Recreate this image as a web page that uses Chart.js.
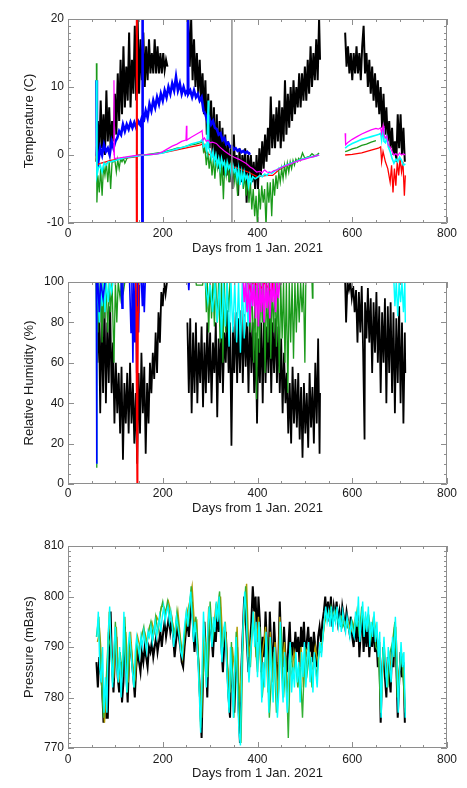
<!DOCTYPE html>
<html><head><meta charset="utf-8">
<script src="https://cdn.jsdelivr.net/npm/chart.js@4.4.1/dist/chart.umd.min.js"></script>
<style>
html,body{margin:0;padding:0;background:#fff;width:467px;height:788px;overflow:hidden}
canvas{position:absolute;left:0}
</style></head><body>
<canvas id="c1" width="467" height="262" style="top:0px"></canvas>
<canvas id="c2" width="467" height="262" style="top:262px"></canvas>
<canvas id="c3" width="467" height="264" style="top:524px"></canvas>
<script>
// ---------- axis labels ----------
const xTitle = 'Days from 1 Jan. 2021';
const tempTitle = 'Temperature (C)';
const rhTitle = 'Relative Humidity (%)';
const presTitle = 'Pressure (mBars)';

// ---------- Temperature series [day, value] ----------
const tBlack = [[60,-1],[63,5],[66,0],[69,8],[72,1],[75,6],[78,0],[81,9.5],[84,2],[87,7],[90,1],[93,5],[96,2],[99,9],[102,3],[105,12],[108,5],[111,14],[114,6],[117,16],[120,7],[123,13],[126,8],[129,18],[132,7],[135,14],[138,9],[141,19],[144,8],[147,20],[150,9],[153,17],[156,11],[159,18],[162,10],[165,16],[168,11],[171,17],[174,12],[177,15],[180,12],[183,17],[186,12],[189,16],[192,12],[195,15],[198,12],[201,15],[204,12.5],[207,14],[210,13],[211,null],
[254,20],[257,13],[260,20],[263,11],[266,17],[269,10],[272,15],[275,9],[278,14],[281,8],[284,12],[287,6],[290,11],[293,3],[296,9],[299,1],[302,8],[305,0],[308,7],[311,-1],[314,6],[317,-2],[320,5],[323,-2],[326,4],[329,-3],[332,3],[335,-3],[338,2],[341,-4],[344,1],[347,-5],[350,3],[353,-3],[356,0],[359,-6],[362,1],[365,-4],[368,0],[371,-3],[374,1],[377,-7],[380,0],[383,-3],[386,0],[389,-4],[392,-1],[395,-5],[398,0],[401,-5],[404,1],[407,-3],[410,2],[413,-2],[416,3],[419,-1],[422,4],[425,0],[428,8.6],[431,1],[434,6],[437,1],[440,7],[443,2],[446,8],[449,1],[452,7],[455,2],[458,11],[461,3],[464,9],[467,4],[470,10],[473,5],[476,11],[479,6],[482,10],[485,7],[488,12],[491,7],[494,12],[497,8],[500,13],[503,8],[506,14],[509,9],[512,16],[515,10],[518,15],[521,11],[524,17],[527,11],[530,20],[532,14],[533,null],
[585,18],[588,13],[591,16],[594,12],[597,15],[600,11],[603,15],[606,12],[609,16],[612,12],[615,15],[618,11],[621,16],[624,19],[627,12],[630,15],[633,10],[636,14],[639,9],[642,13],[645,8],[648,12],[651,7],[654,11],[657,6],[660,10],[663,4],[666,9],[669,3],[672,7],[675,2],[678,5],[681,1],[684,4],[687,0],[690,2],[693,-1],[696,6],[699,1],[702,6],[705,0],[708,4],[711,-1]];
const tBlue = [[60,11],[61,0],[64,-1],[68,1],[72,0],[76,1.5],[80,0.5],[84,1],[88,0],[92,2],[96,1],[100,2],[104,2.5],[108,3.5],[112,3],[116,4.5],[120,3.5],[124,4.5],[128,3.8],[132,4.8],[136,4],[140,4.8],[144,4],[148,5],[152,4.5],[156,5.5],[157,-10],[157,20],[158,5],[160,5],[164,6.5],[168,5.5],[172,7.5],[176,6.5],[180,8],[184,7],[188,8.5],[192,7.5],[196,9],[200,8],[204,9.5],[208,8.5],[212,10],[216,9],[220,10.5],[224,9.5],[228,11.5],[232,9.5],[236,10.5],[240,9],[244,10],[248,9],[252,9.5],[253,20],[254,9],[258,9.5],[262,8.5],[266,9.5],[270,8.5],[274,9],[278,8],[282,8.5],[286,6.5],[290,6],[294,5],[298,5.5],[302,4.5],[306,5],[310,4],[314,3.8],[318,3],[322,3.2],[326,2.2],[330,2.5],[334,1.6],[338,1.8],[342,1.2],[346,1.3],[350,0.8],[354,1],[358,0.6],[362,0.8],[366,0.4],[370,0.6],[374,0.3],[378,0.5],[382,0.2],[385,0.3]];
const tRed = [[60,-1.5],[70,-1.2],[80,-1],[90,-0.8],[100,-0.7],[110,-0.6],[120,-0.5],[130,-0.4],[140,-0.3],[144,-0.2],[144,-10],[144,20],[145,20],[145,-10],[146,-10],[146,20],[146.5,-0.2],[150,-0.1],[160,0],[180,0.1],[200,0.3],[220,0.6],[240,0.9],[260,1.2],[280,1.5],[285,1.7],[287,0.5],[300,0],[320,-1],[340,-1.5],[360,-2],[380,-2.5],[400,-3.2],[420,-3],[432,-3],[445,-2.2],[460,-1.6],[475,-1.1],[490,-0.7],[505,-0.4],[520,-0.2],[530,0],[531,null],
[585,0],[600,0.1],[620,0.3],[640,0.7],[655,1],[660,1.2],[662,-1],[665,0.5],[670,-1],[675,-2],[680,-4],[683,-1.5],[686,-5.5],[689,-2],[692,-4.5],[695,-1],[698,-3],[701,-0.5],[704,-2.5],[707,-1],[710,-6],[712,-3]];
const tGreen = [[60,13.5],[61,-7],[63,-3],[66,-5.5],[69,-2],[72,-6],[75,-1.5],[78,-3],[81,-1.2],[84,-4],[87,-1],[90,-5],[93,-1],[96,-1],[99,-0.8],[102,-2.5],[105,-0.7],[108,-2],[111,-0.6],[114,-1],[117,-0.5],[120,-1.2],[125,-0.4],[130,-0.3],[140,-0.2],[150,0],[160,0],[170,0.1],[180,0.2],[190,0.3],[200,0.4],[210,0.6],[220,0.8],[230,1],[240,1.1],[250,1.3],[260,1.5],[270,1.6],[280,1.8],[284,2],[286,0.5],[289,1],[292,-1.5],[295,0.5],[298,-2],[301,0],[304,-3],[307,-0.5],[310,-3.5],[313,-0.5],[316,-2],[319,-0.5],[322,-4.5],[325,-1],[328,-6.5],[331,-1],[334,-3],[337,-1],[340,-4],[343,-1.5],[346,-3],[349,-2],[352,-4],[355,-2],[358,-6],[361,-2],[364,-3.5],[367,-2.5],[370,-5],[373,-3],[376,-6],[379,-3.5],[382,-7],[385,-4],[388,-8],[391,-5],[394,-9],[397,-6],[400,-10.5],[403,-5],[406,-8],[409,-4.5],[412,-7],[415,-5],[418,-10.5],[421,-4],[424,-7],[427,-4],[430,-9],[433,-3.5],[436,-6],[439,-3],[442,-5],[445,-2.5],[448,-4],[451,-2],[454,-3.5],[457,-1.5],[460,-3],[463,-1.2],[466,-2.5],[469,-1],[472,-2],[475,-0.8],[478,-1.5],[481,-0.6],[484,-1],[487,-0.5],[490,-0.8],[495,0.3],[500,-0.5],[505,-0.3],[510,-0.2],[515,0.2],[520,-0.1],[525,0],[530,0.3],[531,null],
[585,0.5],[590,0.6],[600,0.9],[610,1.1],[620,1.4],[630,1.6],[640,1.9],[650,2.1]];
const tCyan = [[60,11],[61,-3],[64,-2],[68,-1.5],[72,-2.5],[76,-1.2],[80,-1.5],[85,-1],[90,-1],[95,-0.9],[100,-0.8],[110,-0.6],[120,-0.4],[130,-0.3],[140,-0.2],[150,-0.1],[160,0],[170,0],[180,0.1],[190,0.2],[200,0.3],[210,0.5],[220,0.7],[230,0.9],[240,1.1],[250,1.3],[260,1.6],[270,1.8],[280,2],[284,2.3],[286,1.2],[290,1.5],[293,0.5],[296,8],[297,1],[300,0.5],[303,-0.5],[306,0.5],[309,-1],[312,0],[315,-1.5],[318,-0.5],[321,-2],[324,-0.5],[327,-1.5],[330,-1],[333,-2.5],[336,-1],[339,-2],[342,-1.5],[345,-3],[348,-1.5],[351,-2.5],[354,-2],[357,-3.5],[360,-2],[363,-4.4],[366,-2.5],[369,-4],[372,-2.5],[375,-3.5],[378,-3],[381,-4.5],[384,-3],[387,-4],[390,-3.2],[395,-3.5],[400,-3.3],[405,-3],[410,-3.2],[415,-2.8],[420,-3],[425,-2.5],[430,-2.7],[440,-2.2],[450,-1.8],[460,-1.5],[470,-1.2],[480,-1],[490,-0.7],[500,-0.5],[510,-0.3],[520,-0.2],[530,0],[531,null],
[585,1],[590,1.3],[600,1.7],[610,2],[620,2.3],[630,2.5],[640,2.7],[650,2.9],[655,3],[660,3.2],[662,2.2],[665,4],[667,2],[670,1.8],[673,2.6],[676,1.2],[680,0.5],[684,-0.5],[688,-1.2],[692,-0.6],[696,-1],[700,-0.3],[704,-0.8],[708,-1.5],[712,-1.3]];
const tMagenta = [[96,0],[97,11],[98,-0.5],[100,-0.5],[110,-0.4],[120,-0.3],[130,-0.2],[140,-0.1],[150,0],[160,0],[170,0.1],[180,0.1],[190,0.2],[200,0.5],[210,0.9],[220,1.3],[230,1.6],[240,2],[249,2.2],[250,4.3],[251,2.2],[260,2.6],[270,3],[280,3.4],[283,3.6],[285,2.2],[288,2.5],[292,2],[296,2.2],[300,1.8],[305,1.9],[313,1.7],[320,1.2],[330,0.6],[342,0],[350,-0.3],[360,-0.6],[370,-1],[377,-1.3],[385,-1.8],[390,-2],[398,-2.5],[405,-2.4],[410,-2.6],[415,-2.2],[420,-2.5],[426,-2.6],[430,-2.5],[435,-2.3],[440,-2.2],[455,-1.7],[470,-1.3],[480,-1],[490,-0.8],[500,-0.6],[510,-0.4],[520,-0.2],[530,0],[531,null],
[585,3.2],[586,1.5],[590,1.8],[600,2.3],[610,2.7],[620,3.1],[630,3.4],[640,3.7],[650,3.9],[655,3.8],[660,4],[662,3.2],[665,4.3],[667,3],[670,2.5],[673,2.8],[676,1.5],[680,1.2],[684,0.5],[688,0],[692,0.2],[696,-0.1],[700,0.3],[704,0],[708,0.2],[712,0]];
const tMarker = [[346,-10],[346,20]];

// ---------- Relative humidity series [day, value] ----------
const rhBlack = [[60,100],[62,60],[65,90],[68,35],[71,85],[74,45],[77,90],[80,40],[83,80],[86,50],[89,88],[92,45],[95,70],[98,30],[101,60],[104,35],[107,55],[110,25],[113,58],[116,12],[119,50],[122,30],[125,55],[128,25],[131,60],[134,30],[137,50],[140,20],[143,45],[146,10],[149,55],[152,25],[155,65],[158,35],[161,58],[164,15],[167,50],[170,30],[173,60],[176,45],[179,65],[182,52],[185,75],[188,55],[191,85],[194,70],[197,95],[200,88],[203,100],[206,94],[209,100],[210,null],
[252,80],[255,45],[258,82],[261,35],[264,75],[267,45],[270,80],[273,40],[276,70],[279,50],[282,78],[285,38],[288,70],[291,45],[294,80],[297,50],[300,75],[303,40],[306,70],[309,55],[312,80],[315,33],[318,72],[321,50],[324,82],[327,45],[330,75],[333,60],[336,86],[339,55],[342,80],[345,19],[348,78],[351,55],[354,85],[357,50],[360,82],[363,55],[366,86],[369,50],[372,84],[375,58],[378,80],[381,45],[384,85],[387,55],[390,80],[393,45],[396,75],[399,30],[402,72],[405,50],[408,80],[411,40],[414,85],[417,50],[420,78],[423,55],[426,85],[429,45],[432,80],[435,55],[438,82],[441,50],[444,78],[447,45],[450,72],[453,35],[456,65],[459,40],[462,55],[465,25],[468,50],[471,20],[474,58],[477,30],[480,52],[483,28],[486,55],[489,22],[492,48],[495,13],[498,50],[501,25],[504,45],[507,18],[510,55],[513,28],[516,48],[519,20],[522,60],[525,30],[528,72],[531,15],[532,45],[533,null],
[585,100],[587,80],[590,100],[593,96],[596,100],[599,92],[602,98],[605,85],[608,96],[611,70],[614,95],[617,75],[620,98],[623,65],[626,22],[627,90],[630,72],[633,97],[636,70],[639,92],[642,55],[645,90],[648,65],[651,95],[654,60],[657,88],[660,45],[663,85],[666,60],[669,92],[672,40],[675,88],[678,55],[681,90],[684,45],[687,85],[690,35],[693,82],[696,50],[699,88],[702,40],[705,80],[708,30],[711,75],[712,55]];
const rhBlue = [[60,100],[60.5,10],[61,95],[63,100],[66,85],[69,100],[74,92],[78,100],[90,100],[100,100],[112,100],[114,87],[116,100],[130,100],[133,75],[135,100],[137,60],[139,100],[141,70],[143,100],[145,55],[147,100],[149,75],[151,100],[155,100],[157,88],[159,100],[161,85],[163,100],[165,100],[166,null],[254,100],[255,96],[256,100]];
const rhRed = [[60,100],[143,100],[144,88],[145,30],[146,0],[147,40],[148,85],[149,100],[150,null],[380,100],[385,96],[388,100],[410,97],[413,100],[430,95],[433,100],[455,100]];
const rhGreen = [[60,100],[60.5,8],[61,90],[63,75],[65,100],[67,80],[69,100],[72,70],[74,100],[77,82],[80,100],[84,75],[87,100],[90,85],[93,100],[97,60],[100,100],[103,80],[106,100],[110,92],[113,100],[117,95],[120,100],[270,100],[271,98.5],[284,98.5],[285,100],[290,100],[292,85],[294,100],[297,75],[300,100],[303,82],[306,100],[309,78],[312,100],[315,80],[318,100],[321,70],[324,100],[327,60],[330,100],[333,75],[336,100],[339,85],[342,100],[380,100],[385,75],[388,100],[392,60],[395,100],[398,42],[401,100],[404,65],[407,100],[410,80],[413,100],[416,55],[419,100],[422,70],[425,100],[428,62],[431,100],[434,75],[437,100],[440,68],[443,100],[446,55],[449,100],[452,72],[455,100],[458,60],[461,100],[464,45],[467,100],[470,70],[473,100],[476,62],[479,100],[482,75],[485,100],[488,80],[491,100],[494,85],[497,100],[500,60],[502,100],[515,100],[516,92],[517,100]];
const rhCyan = [[60,100],[60.5,10],[61,85],[63,100],[66,80],[69,100],[72,88],[75,100],[78,85],[81,100],[85,90],[88,100],[92,95],[95,100],[96,null],[290,100],[295,90],[300,100],[305,85],[310,100],[315,80],[320,100],[324,72],[328,100],[332,78],[336,100],[340,68],[344,100],[348,75],[352,100],[356,70],[360,100],[364,65],[368,100],[372,72],[376,100],[380,78],[384,100],[388,88],[392,100],[393,null],[688,100],[690,88],[693,100],[696,83],[699,100],[702,90],[705,100],[708,85],[711,100],[712,80]];
const rhMagenta = [[60,100],[370,100],[372,90],[375,100],[378,85],[381,100],[384,80],[387,100],[390,88],[393,100],[396,82],[399,100],[402,78],[405,100],[408,85],[411,100],[414,80],[417,100],[420,87],[423,100],[426,82],[429,100],[432,90],[435,100],[438,85],[441,100],[444,92],[447,100],[532,100],[533,null],[585,100],[712,100]];

// ---------- Pressure series [day, value] ----------
const pBlack = [[60,787],[63,782],[66,788],[69,785],[72,782],[75,775],[78,781],[81,776],[84,776],[87,790],[90,797],[93,786],[96,781],[99,788],[102,792],[105,784],[108,781],[111,787],[114,779],[117,783],[120,794],[123,785],[126,779],[129,788],[132,791],[135,787],[138,784],[141,780],[144,786],[147,789],[150,787],[153,785],[156,789],[159,787],[162,790],[165,788],[168,786],[171,790],[174,789],[177,791],[180,788],[183,790],[186,792],[189,789],[192,791],[195,793],[198,790],[201,793],[204,795],[207,792],[210,794],[213,796],[216,793],[219,795],[222,792],[225,788],[228,791],[231,794],[234,792],[237,790],[240,787],[243,786],[246,790],[249,793],[252,795],[255,792],[258,796],[261,799],[264,794],[267,789],[270,793],[273,790],[276,786],[279,779],[282,772],[285,784],[288,795],[291,788],[294,780],[297,791],[300,796],[303,792],[306,788],[309,794],[312,791],[315,797],[318,793],[321,798],[324,790],[327,785],[330,791],[333,793],[336,786],[339,780],[342,776],[345,788],[348,782],[351,777],[354,785],[357,790],[360,778],[363,771],[366,786],[369,793],[372,800],[375,796],[378,790],[381,785],[384,790],[387,795],[390,802],[393,797],[396,800],[399,791],[402,800],[405,795],[408,785],[411,792],[414,788],[417,797],[420,790],[423,784],[426,797],[429,790],[432,786],[435,795],[438,789],[441,783],[444,787],[447,799],[450,790],[453,786],[456,794],[459,788],[462,785],[465,790],[468,795],[471,787],[474,791],[477,788],[480,793],[483,789],[486,792],[489,786],[492,794],[495,790],[498,795],[501,788],[504,791],[507,794],[510,789],[513,792],[516,787],[519,793],[522,790],[525,786],[528,792],[531,794],[534,791],[537,795],[540,797],[543,800],[546,796],[549,799],[552,795],[555,800],[558,794],[561,798],[564,796],[567,799],[570,795],[573,797],[576,794],[579,798],[582,796],[585,794],[588,797],[591,795],[594,793],[597,796],[600,792],[603,790],[606,795],[609,791],[612,797],[615,788],[618,793],[621,796],[624,789],[627,794],[630,790],[633,795],[636,788],[639,793],[642,790],[645,794],[648,789],[651,792],[654,786],[657,791],[660,775],[663,785],[666,790],[669,784],[672,780],[675,788],[678,784],[681,781],[684,790],[687,786],[690,794],[693,787],[696,776],[699,783],[702,789],[705,784],[708,787],[711,775]];
const pCyan = [[61,792],[64,797],[67,786],[70,783],[73,790],[76,777],[79,784],[82,777],[85,793],[88,798],[91,789],[94,782],[97,790],[100,794],[103,786],[106,783],[109,790],[112,780],[115,786],[118,797],[121,787],[124,781],[127,790],[130,793],[133,789],[136,785],[139,782],[142,789],[145,792],[148,790],[151,788],[154,792],[157,790],[160,793],[163,791],[166,789],[169,793],[172,792],[175,794],[178,791],[181,793],[184,795],[187,792],[190,794],[193,796],[196,793],[199,796],[202,798],[205,795],[208,797],[211,798],[214,795],[217,797],[220,794],[223,790],[226,793],[229,796],[232,794],[235,792],[238,789],[241,788],[244,792],[247,795],[250,797],[253,794],[256,798],[259,801],[262,796],[265,791],[268,795],[271,792],[274,788],[277,781],[280,773],[283,786],[286,797],[289,790],[292,782],[295,793],[298,798],[301,794],[304,790],[307,796],[310,793],[313,799],[316,795],[319,800],[322,792],[325,787],[328,793],[331,795],[334,788],[337,782],[340,777],[343,790],[346,784],[349,776],[352,787],[355,792],[358,780],[361,773],[364,770.5],[367,788],[370,795],[373,801],[376,797],[379,789],[382,783],[385,788],[388,792],[391,797],[394,790],[397,795],[400,784],[403,795],[406,789],[409,779],[412,787],[415,782],[418,793],[421,785],[424,777],[427,792],[430,784],[433,779],[436,790],[439,783],[442,776],[445,781],[448,795],[451,784],[454,779],[457,789],[460,782],[463,777],[466,785],[469,791],[472,781],[475,786],[478,782],[481,789],[484,783],[487,787],[490,779],[493,789],[496,784],[499,791],[502,782],[505,787],[508,791],[511,783],[514,788],[517,781],[520,789],[523,785],[526,782],[529,788],[532,791],[535,788],[538,792],[541,795],[544,798],[547,795],[550,797],[553,794],[556,798],[559,793],[562,797],[565,795],[568,798],[571,794],[574,796],[577,793],[580,797],[583,795],[586,793],[589,796],[592,794],[595,792],[598,795],[601,793],[604,792],[607,797],[610,794],[613,800],[616,791],[619,795],[622,799],[625,792],[628,797],[631,793],[634,798],[637,790],[640,795],[643,792],[646,797],[649,791],[652,795],[655,788],[658,793],[661,776],[664,787],[667,792],[670,786],[673,782],[676,790],[679,786],[682,783],[685,792],[688,788],[691,796],[694,789],[697,777],[700,785],[703,791],[706,786],[709,789],[712,776]];
const pGreen = [[60,792],[65,796],[70,784],[75,776],[80,782],[85,792],[90,790],[95,783],[100,795],[105,784],[110,789],[115,784],[120,796],[125,781],[130,792],[135,787],[140,782],[145,791],[150,789],[155,792],[160,794],[165,790],[170,793],[175,795],[180,792],[185,796],[190,793],[195,797],[200,799],[205,796],[210,799],[215,796],[220,795],[225,792],[230,797],[235,793],[240,789],[245,791],[250,797],[255,795],[260,802],[265,792],[270,796],[275,789],[280,774],[285,784],[290,791],[295,784],[300,799],[305,791],[310,795],[315,797],[320,801],[325,788],[330,794],[335,789],[340,778],[345,791],[350,776],[355,793],[360,782],[365,771],[370,794],[375,802],[380,790],[385,786],[390,796],[395,791],[400,785],[405,794],[410,780],[415,786],[420,792],[425,776],[430,785],[435,789],[440,777],[445,782],[450,794],[455,780],[460,788],[465,772],[470,790],[475,784],[480,788],[485,782],[490,786],[495,776],[500,790],[505,785],[510,789],[515,782],[520,788],[525,784],[530,789],[535,789],[540,794],[545,797],[550,796],[555,798],[560,795],[565,797],[570,795],[575,796],[580,794],[585,795],[590,794],[595,793],[600,795],[605,793],[610,797],[615,792],[620,798],[625,793],[630,795],[635,796],[640,792],[645,796],[650,790],[655,789],[660,777],[665,790],[670,787],[675,782],[680,789],[685,791],[690,795],[695,780],[700,786],[705,788],[710,780],[712,777]];
const pOlive = [[62,791],[67,793],[72,786],[77,775],[82,783],[87,797],[92,788],[97,785],[102,794],[107,783],[112,786],[117,788],[122,793],[127,783],[132,793],[137,786],[142,784],[147,792],[152,790],[157,793],[162,793],[167,791],[172,794],[177,795],[182,793],[187,796],[192,795],[197,798],[202,798],[207,797],[212,799],[217,797],[222,794],[227,793],[232,797],[237,792],[242,788],[247,793],[252,797],[257,799],[262,802],[267,794],[272,795],[277,784],[282,776],[287,795],[292,786],[297,798],[302,795],[307,793],[312,798],[317,796],[322,800],[327,790],[332,795],[337,786],[342,781],[347,790],[352,785],[357,794],[362,779],[367,787],[372,797],[377,802.5],[382,788],[387,792],[392,797],[397,788],[402,796],[407,786],[412,790],[417,794],[422,781],[427,793],[432,783],[437,791],[442,779],[447,796],[452,786],[457,791],[462,781],[467,787],[472,784],[477,789],[482,786],[487,783],[492,790],[497,782],[502,789],[507,790],[512,785],[517,786],[522,790],[527,787],[532,790],[537,791],[542,795],[547,796],[552,797],[557,796],[562,797],[567,796],[572,795],[577,796],[582,795],[587,794],[592,795],[597,793],[602,794],[607,796],[612,795],[617,795],[622,797],[627,794],[632,796],[637,793],[642,794],[647,795],[652,792],[657,790],[662,780],[667,791],[672,784],[677,788],[682,786],[687,790],[692,794],[697,782],[702,788],[707,786],[711,778]];

// ---------- helpers ----------
const toXY = arr => arr.map(p => ({x: p[0], y: p[1]}));
const TEXT = '#1a1a1a';
const FRAME = '#8e8e8e';
const FONT = 'Liberation Sans, Arial, sans-serif';

const framePlugin = {
  id: 'idlFrame',
  afterDatasetsDraw(chart, args, o) {
    const {ctx, chartArea: a} = chart;
    const x = chart.scales.x, y = chart.scales.y;
    ctx.save();
    ctx.strokeStyle = FRAME;
    ctx.lineWidth = 1;
    ctx.beginPath();
    ctx.rect(a.left + 0.5, a.top + 0.5, a.right - a.left - 1, a.bottom - a.top - 1);
    const seg = (x1, y1, x2, y2) => { ctx.moveTo(x1, y1); ctx.lineTo(x2, y2); };
    const isMajor = (v, step, base) => Math.abs((v - base) / step - Math.round((v - base) / step)) < 1e-6;
    for (let v = x.min; v <= x.max + 1e-9; v += o.xMinor) {
      const px = Math.round(x.getPixelForValue(v)) + 0.5;
      const len = isMajor(v, o.xMajor, x.min) ? 6 : 3;
      seg(px, a.bottom, px, a.bottom - len);
      seg(px, a.top, px, a.top + len);
    }
    for (let v = y.min; v <= y.max + 1e-9; v += o.yMinor) {
      const py = Math.round(y.getPixelForValue(v)) + 0.5;
      const len = isMajor(v, o.yMajor, y.min) ? 6 : 3;
      seg(a.left, py, a.left + len, py);
      seg(a.right, py, a.right - len, py);
    }
    ctx.stroke();
    ctx.restore();
  }
};

function line(data, color, order, width) {
  return { data: toXY(data), borderColor: color, backgroundColor: color, borderWidth: width || 1,
           pointRadius: 0, tension: 0, spanGaps: false, fill: false, order: order };
}

function panel(id, p) {
  const canvas = document.getElementById(id);
  const H = canvas.height;
  const xH = H - p.areaBottom;
  const titleFont = {family: FONT, size: 13};
  const lh = 13 * 1.2;
  new Chart(canvas, {
    type: 'line',
    data: { datasets: p.datasets },
    options: {
      responsive: false, animation: false, devicePixelRatio: 1, events: [],
      layout: { padding: { top: p.areaTop, right: 20, left: 0, bottom: 0 } },
      plugins: { legend: {display: false}, tooltip: {enabled: false},
                 idlFrame: { xMinor: 50, xMajor: 200, yMinor: p.yMinor, yMajor: p.yStep } },
      scales: {
        x: { type: 'linear', min: 0, max: 800,
             ticks: { stepSize: 200, padding: p.labelPad, color: TEXT, maxRotation: 0, font: {family: FONT, size: 12} },
             grid: { display: false, drawTicks: false }, border: { display: false },
             title: { display: true, text: xTitle, color: TEXT, font: titleFont,
                      padding: { top: 0, bottom: xH - p.titleOff - lh / 2 } },
             afterFit: s => { s.height = xH; } },
        y: { type: 'linear', min: p.yMin, max: p.yMax,
             ticks: { stepSize: p.yStep, padding: 4, color: TEXT, font: {family: FONT, size: 12} },
             grid: { display: false, drawTicks: false }, border: { display: false },
             title: { display: true, text: p.yTitle, color: TEXT, font: titleFont,
                      padding: { top: 29 - lh / 2, bottom: 0 } },
             afterFit: s => { s.width = 68; } }
      }
    },
    plugins: [framePlugin]
  });
}

panel('c1', {
  areaTop: 19, areaBottom: 223, labelPad: 3, titleOff: 25,
  yMin: -10, yMax: 20, yStep: 10, yMinor: 1, yTitle: tempTitle,
  datasets: [
    line(tBlack, '#000000', 8, 2),
    line(tBlue, '#0000ff', 6, 2.6),
    line(tRed, '#ff0000', 5, 1.3),
    line(tGreen, '#1a9a1a', 4, 1.3),
    line(tCyan, '#00ffff', 3, 1.6),
    line(tMagenta, '#ff00ff', 2, 1.2),
    line(tMarker, '#909090', 1, 1.5)
  ]
});

panel('c2', {
  areaTop: 20, areaBottom: 222, labelPad: 2, titleOff: 24.5,
  yMin: 0, yMax: 100, yStep: 20, yMinor: 5, yTitle: rhTitle,
  datasets: [
    line(rhBlack, '#000000', 8, 1.8),
    line(rhGreen, '#1a9a1a', 6, 1.3),
    line(rhCyan, '#00ffff', 5, 1.4),
    line(rhBlue, '#0000ff', 4, 1.6),
    line(rhRed, '#ff0000', 3, 1.6),
    line(rhMagenta, '#ff00ff', 2, 1.6)
  ]
});

panel('c3', {
  areaTop: 22, areaBottom: 224, labelPad: 4, titleOff: 25,
  yMin: 770, yMax: 810, yStep: 10, yMinor: 1, yTitle: presTitle,
  datasets: [
    line(pBlack, '#000000', 8, 2),
    line(pOlive, '#b09a00', 6, 1.4),
    line(pGreen, '#33b033', 5, 1.4),
    line(pCyan, '#00ffff', 4, 1.4)
  ]
});
</script>
</body></html>
